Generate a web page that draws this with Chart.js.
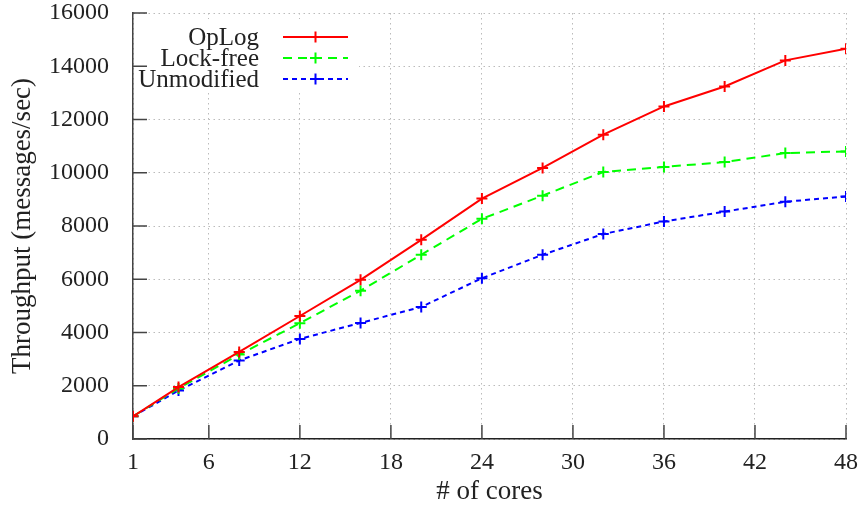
<!DOCTYPE html>
<html>
<head>
<meta charset="utf-8">
<script src="https://cdn.jsdelivr.net/npm/chart.js@4"></script>
<style>
  html, body { margin: 0; padding: 0; background: #fff; }
  #wrap { width: 860px; height: 508px; }
</style>
</head>
<body>
<div id="wrap"><canvas id="chart" width="860" height="508"></canvas></div>
<script>
var cores = [1, 4, 8, 12, 16, 20, 24, 28, 32, 36, 40, 44, 48];
var oplog = [850, 1950, 3270, 4620, 5980, 7480, 9030, 10180, 11430, 12490, 13240, 14220, 14660];
var lockFree = [850, 1900, 3170, 4350, 5570, 6920, 8270, 9140, 10030, 10220, 10400, 10740, 10800];
var unmodified = [850, 1820, 2950, 3760, 4360, 4960, 6040, 6920, 7700, 8170, 8540, 8910, 9110];
var xTicks = [1, 6, 12, 18, 24, 30, 36, 42, 48];
var yMax = 16000;
var yStep = 2000;

(function() {
    'use strict';

    var FONT = 'Liberation Serif';

    function pts(vals) {
        return cores.map(function(c, i) { return { x: c, y: vals[i] }; });
    }

    function series(label, vals, color, dash) {
        return {
            label: label,
            data: pts(vals),
            borderColor: color,
            backgroundColor: color,
            borderWidth: 2,
            borderDash: dash,
            tension: 0,
            pointStyle: 'cross',
            pointRadius: 5.5,
            pointBorderWidth: 2,
            pointHoverRadius: 5.5,
            fill: false
        };
    }

    // legend (text left of the sample) + inward tick marks, gnuplot style
    var frame = {
        id: 'frame',
        afterDraw: function(chart) {
            var ctx = chart.ctx;
            var a = chart.chartArea;
            var xs = chart.scales.x, ys = chart.scales.y;

            ctx.save();
            ctx.fillStyle = '#fff';
            ctx.fillRect(a.left + 4, a.top + 6, 222, 73);

            ctx.font = '25px "' + FONT + '"';
            ctx.textAlign = 'right';
            ctx.textBaseline = 'middle';
            chart.data.datasets.forEach(function(ds, i) {
                var y = a.top + 24 + i * 21;
                ctx.fillStyle = '#222';
                ctx.fillText(ds.label, a.left + 126, y + 1);
                ctx.strokeStyle = ds.borderColor;
                ctx.lineWidth = ds.borderWidth;
                ctx.setLineDash(ds.borderDash || []);
                ctx.beginPath();
                ctx.moveTo(a.left + 150, y);
                ctx.lineTo(a.left + 215, y);
                ctx.stroke();
                ctx.setLineDash([]);
                var cx = a.left + 182.5;
                ctx.beginPath();
                ctx.moveTo(cx - 5.5, y); ctx.lineTo(cx + 5.5, y);
                ctx.moveTo(cx, y - 5.5); ctx.lineTo(cx, y + 5.5);
                ctx.stroke();
            });

            ctx.strokeStyle = '#444';
            ctx.lineWidth = 1.5;
            ctx.beginPath();
            xTicks.forEach(function(v) {
                var px = xs.getPixelForValue(v);
                ctx.moveTo(px, a.bottom);
                ctx.lineTo(px, a.bottom - 14);
            });
            for (var v = 0; v <= yMax; v += yStep) {
                var py = ys.getPixelForValue(v);
                ctx.moveTo(a.left, py);
                ctx.lineTo(a.left + 14, py);
            }
            ctx.stroke();
            ctx.restore();
        }
    };

    Chart.defaults.font.family = FONT;
    Chart.defaults.font.size = 24;
    Chart.defaults.color = '#222';

    new Chart(document.getElementById('chart'), {
        type: 'line',
        data: {
            datasets: [
                series('OpLog', oplog, '#ff0000', []),
                series('Lock-free', lockFree, '#00ff00', [9, 6]),
                series('Unmodified', unmodified, '#0000ff', [5, 4])
            ]
        },
        options: {
            responsive: false,
            animation: false,
            devicePixelRatio: 1,
            layout: { padding: { top: 13, right: 14, left: 0, bottom: 0 } },
            plugins: { legend: { display: false }, tooltip: { enabled: false } },
            scales: {
                x: {
                    type: 'linear',
                    min: 1,
                    max: 48,
                    afterBuildTicks: function(scale) {
                        scale.ticks = xTicks.map(function(v) { return { value: v }; });
                    },
                    afterFit: function(scale) {
                        scale.height = 69;
                        scale.paddingLeft = 0;
                        scale.paddingRight = 0;
                    },
                    ticks: { padding: 9, maxRotation: 0, autoSkip: false,
                        font: { family: FONT, size: 24 },
                        callback: function(v) { return String(v); } },
                    grid: { color: '#bbb', lineWidth: 1, drawTicks: false },
                    border: { color: '#222', width: 1.5, dash: [1.5, 3.5] },
                    title: { display: true, text: '# of cores', font: { family: FONT, size: 27 },
                        padding: { top: 0, bottom: 0 } }
                },
                y: {
                    min: 0,
                    max: yMax,
                    afterFit: function(scale) {
                        scale.width = 133;
                        scale.paddingTop = 0;
                        scale.paddingBottom = 0;
                    },
                    ticks: { stepSize: yStep, padding: 24,
                        font: { family: FONT, size: 24 },
                        callback: function(v) { return String(v); } },
                    grid: { color: '#bbb', lineWidth: 1, drawTicks: false },
                    border: { color: '#444', width: 1.5, dash: [1.5, 3.5] },
                    title: { display: true, text: 'Throughput (messages/sec)', font: { family: FONT, size: 27 },
                        padding: { top: 7, bottom: 8 } }
                }
            }
        },
        plugins: [frame]
    });
})();
</script>
</body>
</html>
